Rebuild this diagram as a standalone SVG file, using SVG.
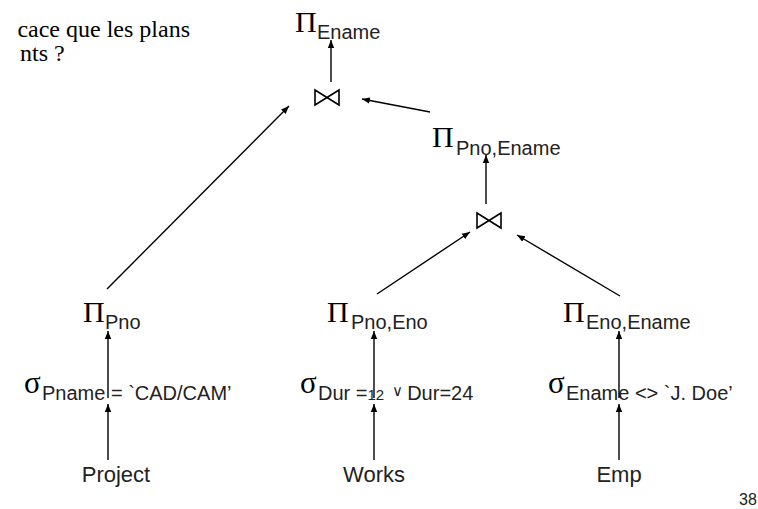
<svg xmlns="http://www.w3.org/2000/svg" width="758" height="509" viewBox="0 0 758 509">
<defs>
<marker id="ah" viewBox="0 0 10 10" refX="10" refY="5" markerWidth="8" markerHeight="8" markerUnits="userSpaceOnUse" orient="auto">
<path d="M0,1 L10,5 L0,9 Z" fill="#000"/>
</marker>
<style>
.pi{font-family:"Liberation Serif","Times New Roman",serif;font-size:30px;fill:#000}
.sg{font-family:"Liberation Serif","Times New Roman",serif;font-size:31px;fill:#000}
.sub{font-family:"Liberation Sans",Arial,sans-serif;font-size:20px;fill:#222}
.sm{font-family:"Liberation Sans",Arial,sans-serif;font-size:15px;fill:#222}
.rel{font-family:"Liberation Sans",Arial,sans-serif;font-size:22px;fill:#222}
.fr{font-family:"Liberation Serif","Times New Roman",serif;font-size:24px;fill:#000}
.join{fill:none;stroke:#000;stroke-width:1.6}
.c{stroke:#000;stroke-width:1.4;fill:none;marker-end:url(#ah)}
</style>
</defs>
<rect width="758" height="509" fill="#fff"/>
<g id="title">
<text class="fr" x="190" y="37" text-anchor="end">cace que les plans</text>
<text class="fr" x="20" y="61">nts ?</text>
</g>
<g id="pi-ename">
<text class="pi" x="295" y="32">Π</text><text class="sub" x="317" y="39">Ename</text>
</g>
<g id="join-top">
<path class="join" d="M315,90 L315,105 L339,90 L339,105 Z"/>
</g>
<g id="pi-pno-ename">
<text class="pi" x="432" y="147">Π</text><text class="sub" x="456" y="155">Pno,Ename</text>
</g>
<g id="join-bottom">
<path class="join" d="M477,213 L477,228 L501,213 L501,228 Z"/>
</g>
<g id="pi-pno">
<text class="pi" x="83" y="322">Π</text><text class="sub" x="105" y="329">Pno</text>
</g>
<g id="pi-pno-eno">
<text class="pi" x="327" y="322">Π</text><text class="sub" x="351" y="329">Pno,Eno</text>
</g>
<g id="pi-eno-ename">
<text class="pi" x="563" y="322">Π</text><text class="sub" x="586" y="329">Eno,Ename</text>
</g>
<g id="sigma-pname">
<text class="sg" x="24" y="393">σ</text><text class="sub" x="42" y="400">Pname = `CAD/CAM’</text>
</g>
<g id="sigma-dur">
<text class="sg" x="300" y="393">σ</text><text class="sub" x="318" y="400">Dur =<tspan class="sm">12</tspan><tspan class="sm" dy="-4" dx="8">∨</tspan><tspan dy="4" dx="4">Dur=24</tspan></text>
</g>
<g id="sigma-ename">
<text class="sg" x="548" y="393">σ</text><text class="sub" x="566" y="400">Ename &lt;&gt; `J. Doe’</text>
</g>
<g id="project"><text class="rel" x="116" y="482" text-anchor="middle">Project</text></g>
<g id="works"><text class="rel" x="374" y="482" text-anchor="middle">Works</text></g>
<g id="emp"><text class="rel" x="619" y="482" text-anchor="middle">Emp</text></g>
<g id="page"><text class="sub" x="739" y="505" style="font-size:16px">38</text></g>
<g id="connectors">
<line class="c" x1="331" y1="82" x2="331" y2="40"/>
<line class="c" x1="430" y1="112" x2="362" y2="99"/>
<line class="c" x1="107" y1="289" x2="289" y2="106"/>
<line class="c" x1="486" y1="204" x2="486" y2="155"/>
<line class="c" x1="377" y1="294" x2="470" y2="232"/>
<line class="c" x1="620" y1="296" x2="517" y2="235"/>
<line class="c" x1="108" y1="398" x2="108" y2="331"/>
<line class="c" x1="374" y1="398" x2="374" y2="331"/>
<line class="c" x1="619" y1="398" x2="619" y2="331"/>
<line class="c" x1="108" y1="460" x2="108" y2="404"/>
<line class="c" x1="374" y1="460" x2="374" y2="404"/>
<line class="c" x1="619" y1="460" x2="619" y2="404"/>
</g>
</svg>
